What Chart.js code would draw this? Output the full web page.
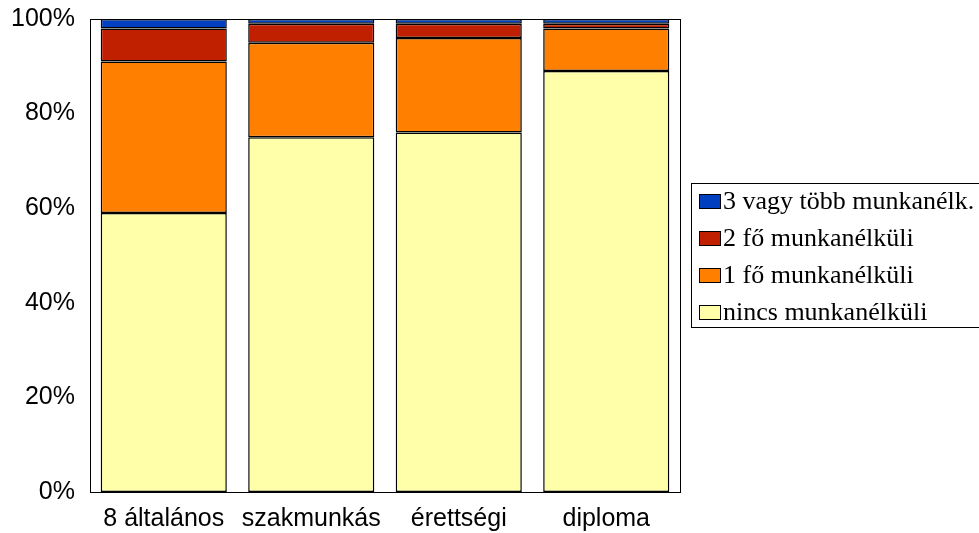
<!DOCTYPE html>
<html>
<head>
<meta charset="utf-8">
<script src="https://cdn.jsdelivr.net/npm/chart.js@4.4.1/dist/chart.umd.min.js"></script>
<style>
  html, body { margin: 0; padding: 0; background: #fff; }
  #wrap { width: 979px; height: 533px; }
</style>
</head>
<body>
<div id="wrap"><canvas id="chart" width="979" height="533"></canvas></div>
<script>
// kategóriák és értékek (%)
const categories = ['8 általános', 'szakmunkás', 'érettségi', 'diploma'];
const nincs = [59, 75, 76, 89];
const egyFo = [32, 20, 20, 9];
const ketFo = [7, 4, 3, 1];
const haromVagyTobb = [2, 1, 1, 1];
const yTicks = [0, 20, 40, 60, 80, 100];

// keret a rajzterület körül + saját jelmagyarázat
const frameAndLegend = {
    id: 'frameAndLegend',
    afterDatasetsDraw(chart) {
        const { ctx, chartArea } = chart;
        ctx.save();
        ctx.strokeStyle = '#000';
        ctx.lineWidth = 1;
        ctx.strokeRect(chartArea.left + 0.5, chartArea.top + 0.5,
            chartArea.right - chartArea.left, chartArea.bottom - chartArea.top);

        // jelmagyarázat doboz
        const lx = 691, ly = 183, lw = 300, lh = 144;
        ctx.strokeRect(lx + 0.5, ly + 0.5, lw, lh);
        ctx.font = '26px "Liberation Serif", "Times New Roman", serif';
        ctx.textBaseline = 'middle';
        const items = chart.data.datasets.slice().reverse();
        items.forEach((ds, i) => {
            const cy = 201 + i * 37;
            ctx.fillStyle = ds.backgroundColor;
            ctx.fillRect(699, cy - 7, 21, 14);
            ctx.strokeRect(699.5, cy - 6.5, 21, 14);
            ctx.fillStyle = '#000';
            ctx.fillText(ds.label, 723, cy + 1);
        });
        ctx.restore();
    }
};

const datasets = [
    { label: 'nincs munkanélküli', data: nincs, backgroundColor: '#FFFFAA' },
    { label: '1 fő munkanélküli', data: egyFo, backgroundColor: '#FF8000' },
    { label: '2 fő munkanélküli', data: ketFo, backgroundColor: '#C02000' },
    { label: '3 vagy több munkanélk.', data: haromVagyTobb, backgroundColor: '#0040C0' }
].map(ds => Object.assign(ds, {
    borderColor: '#000',
    borderWidth: 1.5,
    borderSkipped: false,
    barPercentage: 0.855,
    categoryPercentage: 1
}));

new Chart(document.getElementById('chart'), {
    type: 'bar',
    data: { labels: categories, datasets: datasets },
    options: {
        responsive: false,
        animation: false,
        layout: { padding: { top: 19, right: 299, left: 0, bottom: 0 } },
        plugins: {
            legend: { display: false },
            tooltip: { enabled: false }
        },
        scales: {
            x: {
                stacked: true,
                afterFit(scale) { scale.height = 41; },
                grid: { display: false, drawTicks: false },
                border: { display: false },
                ticks: {
                    color: '#000',
                    padding: 12,
                    maxRotation: 0,
                    font: { family: 'Arial, "Liberation Sans", sans-serif', size: 25 }
                }
            },
            y: {
                stacked: true,
                min: 0,
                max: 100,
                afterFit(scale) {
                    scale.width = 90;
                    scale.paddingTop = 0;
                    scale.paddingBottom = 0;
                },
                afterBuildTicks(scale) { scale.ticks = yTicks.map(v => ({ value: v })); },
                grid: { display: false, drawTicks: false },
                border: { display: false },
                ticks: {
                    color: '#000',
                    padding: 15,
                    callback: v => v + '%',
                    font: { family: 'Arial, "Liberation Sans", sans-serif', size: 25 }
                }
            }
        }
    },
    plugins: [frameAndLegend]
});
</script>
</body>
</html>
